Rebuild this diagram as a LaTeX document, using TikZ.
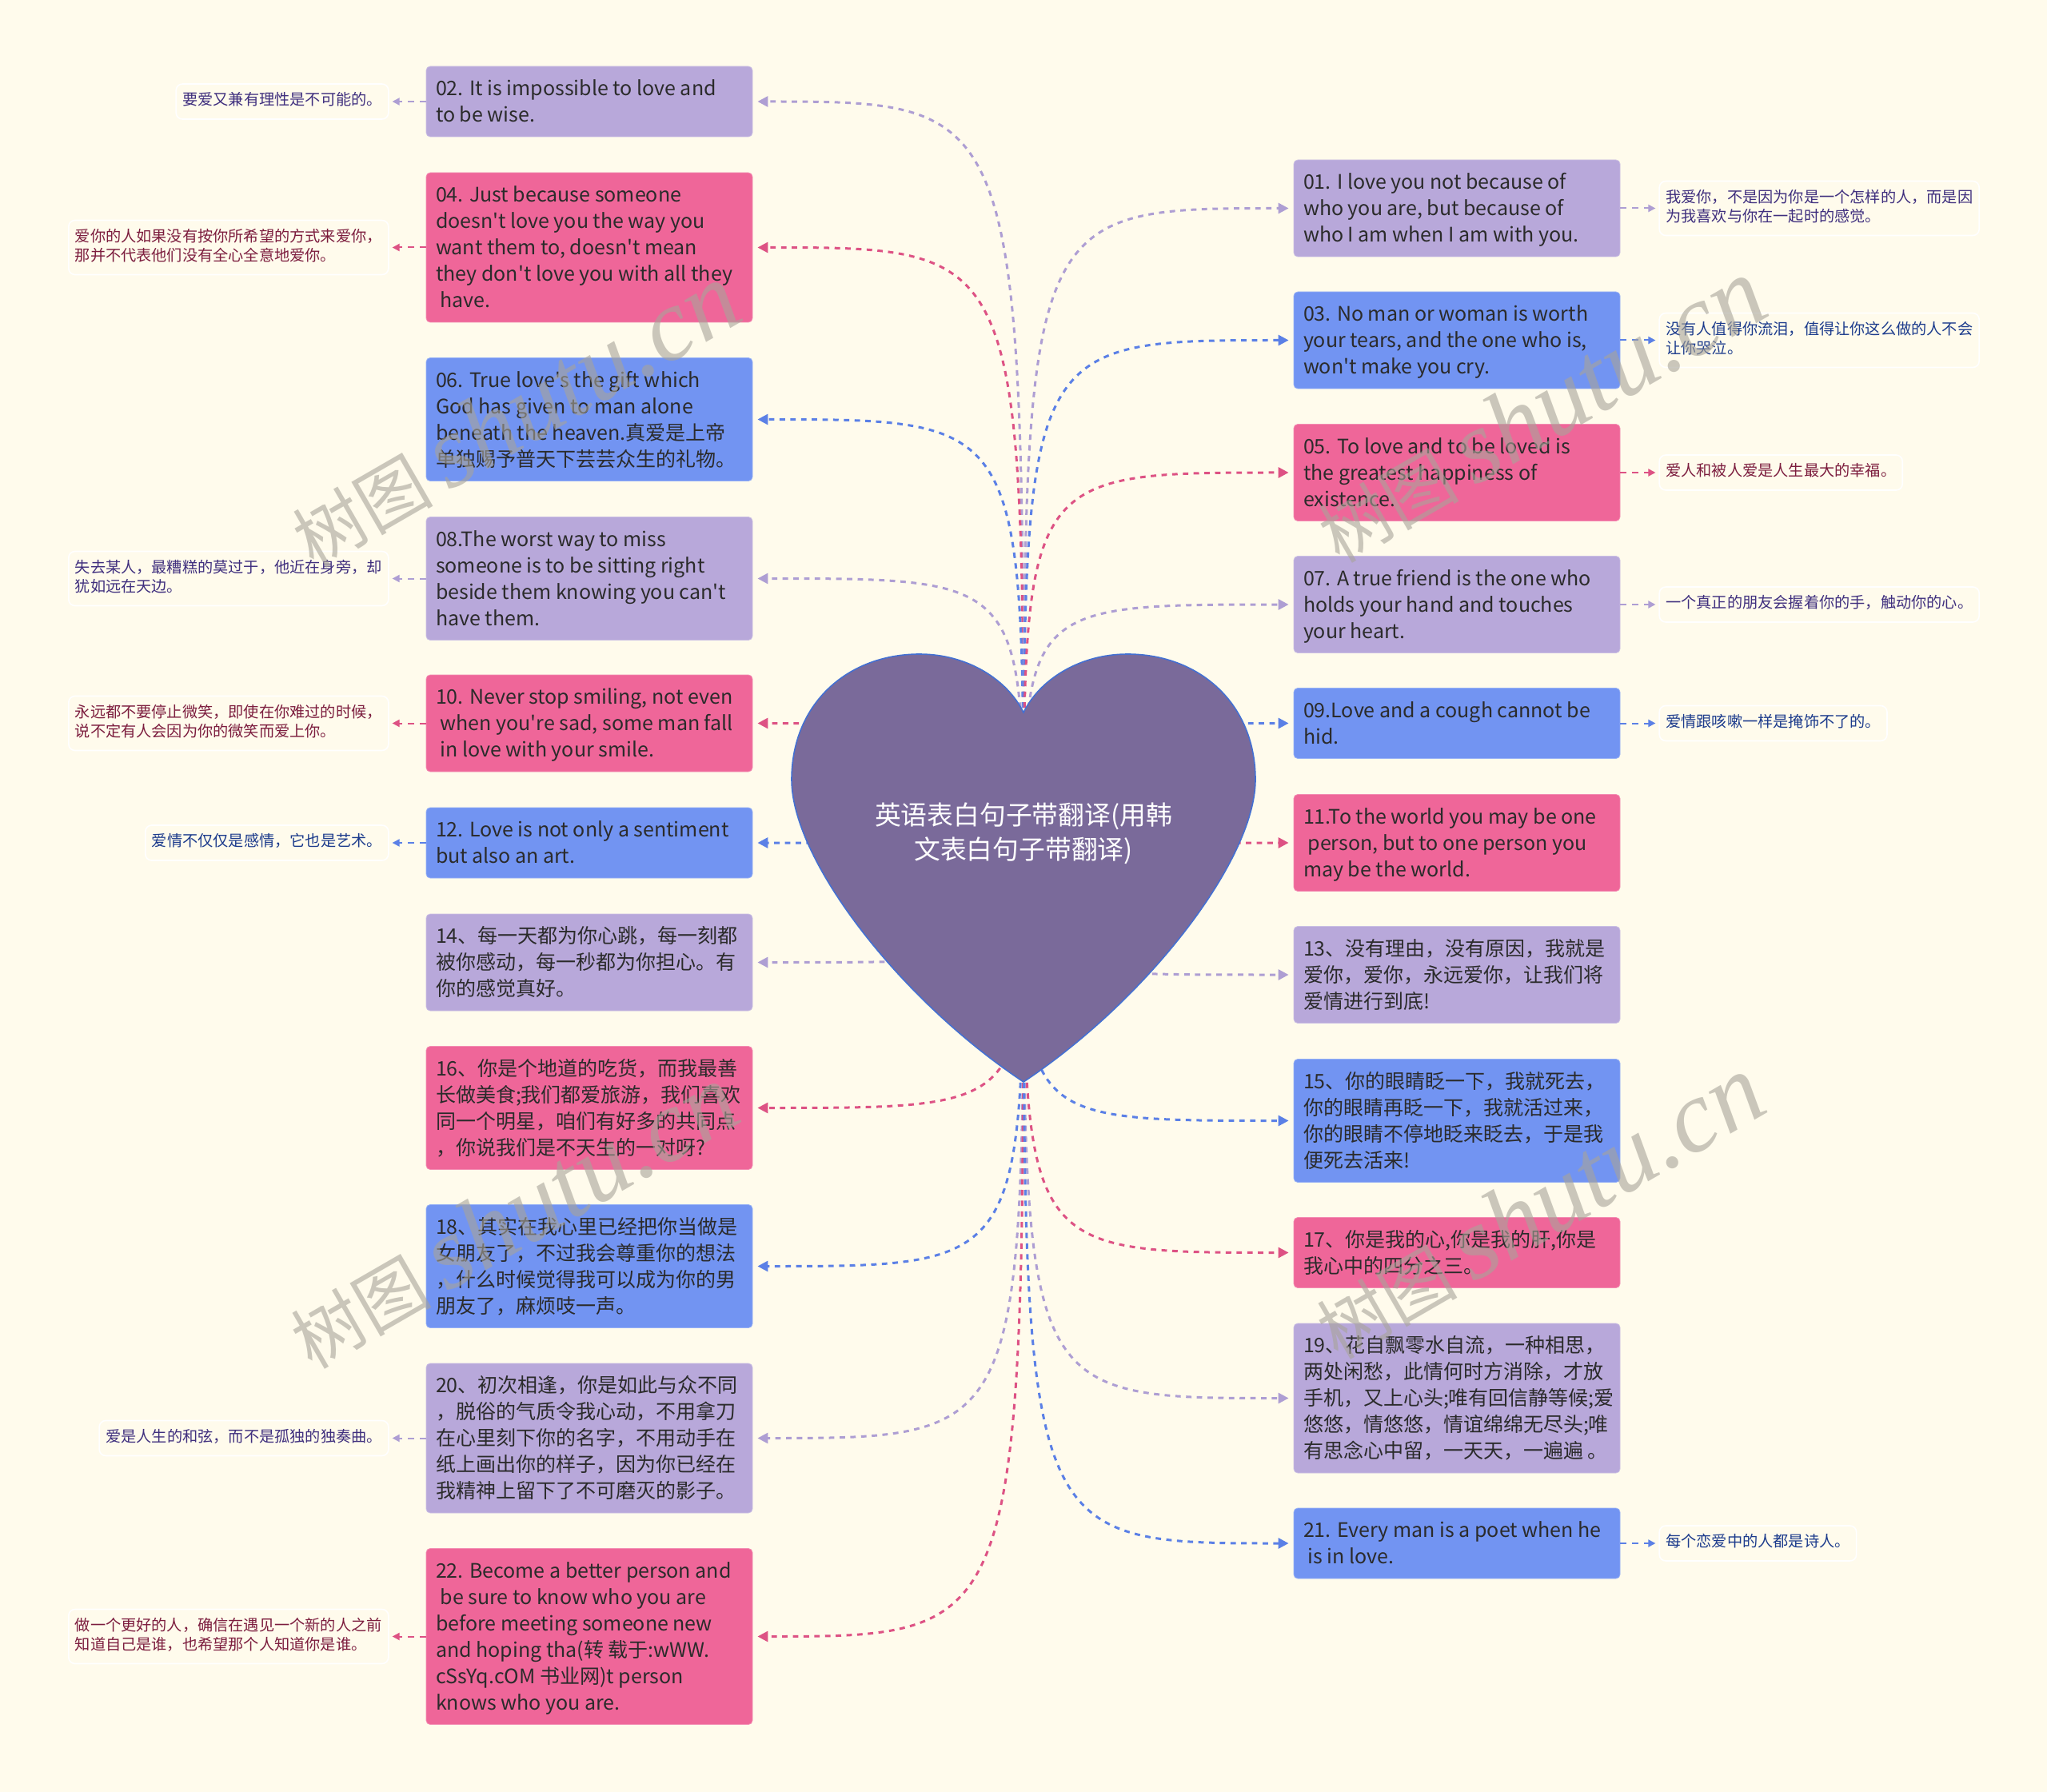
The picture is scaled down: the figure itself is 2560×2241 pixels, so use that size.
\documentclass[tikz,border=0pt]{standalone}
\usepackage{fontspec}
\setmainfont{Noto Sans CJK SC}[Ligatures=TeXOff]
\newfontfamily\wmserif{Liberation Serif}
\usetikzlibrary{arrows.meta, positioning}
\definecolor{Cream}{HTML}{FFFBEC}
\definecolor{PurBox}{HTML}{B8A8DA}
\definecolor{PinkBox}{HTML}{EF6699}
\definecolor{BlueBox}{HTML}{7294F2}
\definecolor{PurLine}{HTML}{AE9ED3}
\definecolor{PinkLine}{HTML}{DD5284}
\definecolor{BlueLine}{HTML}{5B80E6}
\definecolor{PurNote}{HTML}{3F2F7E}
\definecolor{PinkNote}{HTML}{7C1D3E}
\definecolor{BlueNote}{HTML}{1C3B8C}
\definecolor{HeartFill}{HTML}{7A6A9A}
\definecolor{HeartRim}{HTML}{4470D2}
\definecolor{Ink}{HTML}{2B2B2B}
\definecolor{Stamp}{HTML}{A8A499}

% one quote box: fixed width, lines as given
\newcommand{\qt}[1]{\makebox[192pt][l]{\raisebox{-1.3pt}[\height][\depth]{\begin{tabular}{@{}l@{}}#1\end{tabular}}}}
\newcommand{\nt}[1]{\begin{tabular}{@{}l@{}}#1\end{tabular}}

\tikzset{
  quote/.style={rectangle, rounded corners=2.5pt, fill=#1, draw=#1!75!white,
    line width=0.4pt, inner xsep=6pt, inner ysep=5.5pt, text=Ink,
    font=\fontsize{12.5pt}{16.5pt}\selectfont},
  note/.style={rectangle, rounded corners=4pt, draw=white, line width=0.8pt,
    inner xsep=4pt, inner ysep=5pt, text=#1,
    font=\fontsize{9.6pt}{12pt}\selectfont},
  link/.style={draw=#1, line width=1.5pt, dash pattern=on 3.4pt off 3.3pt,
    -{Triangle[length=6.5pt,width=6.5pt]}, shorten >=3pt},
  tie/.style={draw=#1, line width=1pt, dash pattern=on 4pt off 3.5pt,
    -{Triangle[length=4.5pt,width=4.5pt]}, shorten >=2pt},
  heartpath/.style={fill=HeartFill, draw=HeartRim, line width=0.8pt},
  wm/.style={text=Stamp, opacity=0.6, rotate=30,
    font=\fontsize{44pt}{44pt}\selectfont}
}

\begin{document}
\begin{tikzpicture}[x=0.5pt, y=-0.5pt]
  \fill[Cream] (0,0) rectangle (2560,2241);

  % left column
  \node[quote=PurBox] (b02) at (737,127) {\qt{02. It is impossible to love and\\to be wise.}};
  \node[quote=PinkBox] (b04) at (737,309.5) {\qt{04. Just because someone\\doesn't love you the way you\\want them to, doesn't mean\\they don't love you with all they\\\ have.}};
  \node[quote=BlueBox] (b06) at (737,524.5) {\qt{06. True love's the gift which\\God has given to man alone\\beneath the heaven.真爱是上帝\\单独赐予普天下芸芸众生的礼物。}};
  \node[quote=PurBox] (b08) at (737,723.5) {\qt{08.The worst way to miss\\someone is to be sitting right\\beside them knowing you can't\\have them.}};
  \node[quote=PinkBox] (b10) at (737,904.5) {\qt{10. Never stop smiling, not even\\\ when you're sad, some man fall\\\ in love with your smile.}};
  \node[quote=BlueBox] (b12) at (737,1054) {\qt{12. Love is not only a sentiment\\but also an art.}};
  \node[quote=PurBox] (b14) at (737,1203.5) {\qt{14、每一天都为你心跳，每一刻都\\被你感动，每一秒都为你担心。有\\你的感觉真好。}};
  \node[quote=PinkBox] (b16) at (737,1385.5) {\qt{16、你是个地道的吃货，而我最善\\长做美食;我们都爱旅游，我们喜欢\\同一个明星，咱们有好多的共同点\\，你说我们是不天生的一对呀?}};
  \node[quote=BlueBox] (b18) at (737,1583.5) {\qt{18、其实在我心里已经把你当做是\\女朋友了，不过我会尊重你的想法\\，什么时候觉得我可以成为你的男\\朋友了，麻烦吱一声。}};
  \node[quote=PurBox] (b20) at (737,1798.5) {\qt{20、初次相逢，你是如此与众不同\\，脱俗的气质令我心动，不用拿刀\\在心里刻下你的名字，不用动手在\\纸上画出你的样子，因为你已经在\\我精神上留下了不可磨灭的影子。}};
  \node[quote=PinkBox] (b22) at (737,2046.5) {\qt{22. Become a better person and\\\ be sure to know who you are\\before meeting someone new\\and hoping tha(转 载于:wWW.\\cSsYq.cOM 书业网)t person\\knows who you are.}};

  % right column
  \node[quote=PurBox] (b01) at (1822,260.5) {\qt{01. I love you not because of\\who you are, but because of\\who I am when I am with you.}};
  \node[quote=BlueBox] (b03) at (1822,425.5) {\qt{03. No man or woman is worth\\your tears, and the one who is,\\won't make you cry.}};
  \node[quote=PinkBox] (b05) at (1822,591) {\qt{05. To love and to be loved is\\the greatest happiness of\\existence.}};
  \node[quote=PurBox] (b07) at (1822,756) {\qt{07. A true friend is the one who\\holds your hand and touches\\your heart.}};
  \node[quote=BlueBox] (b09) at (1822,904.5) {\qt{09.Love and a cough cannot be\\hid.}};
  \node[quote=PinkBox] (b11) at (1822,1054) {\qt{11.To the world you may be one\\\ person, but to one person you\\may be the world.}};
  \node[quote=PurBox] (b13) at (1822,1219) {\qt{13、没有理由，没有原因，我就是\\爱你，爱你，永远爱你，让我们将\\爱情进行到底!}};
  \node[quote=BlueBox] (b15) at (1822,1401.5) {\qt{15、你的眼睛眨一下，我就死去，\\你的眼睛再眨一下，我就活过来，\\你的眼睛不停地眨来眨去，于是我\\便死去活来!}};
  \node[quote=PinkBox] (b17) at (1822,1566.5) {\qt{17、你是我的心,你是我的肝,你是\\我心中的四分之三。}};
  \node[quote=PurBox] (b19) at (1822,1748.5) {\qt{19、花自飘零水自流，一种相思，\\两处闲愁，此情何时方消除，才放\\手机，又上心头;唯有回信静等候;爱\\悠悠，情悠悠，情谊绵绵无尽头;唯\\有思念心中留，一天天，一遍遍 。}};
  \node[quote=BlueBox] (b21) at (1822,1930) {\qt{21. Every man is a poet when he\\\ is in love.}};

  % translations
  \node[note=PurNote, left=23pt of b02] (n02) {\nt{要爱又兼有理性是不可能的。}};
  \node[note=PinkNote, left=23pt of b04] (n04) {\nt{爱你的人如果没有按你所希望的方式来爱你，\\那并不代表他们没有全心全意地爱你。}};
  \node[note=PurNote, left=23pt of b08] (n08) {\nt{失去某人，最糟糕的莫过于，他近在身旁，却\\犹如远在天边。}};
  \node[note=PinkNote, left=23pt of b10] (n10) {\nt{永远都不要停止微笑，即使在你难过的时候，\\说不定有人会因为你的微笑而爱上你。}};
  \node[note=BlueNote, left=23pt of b12] (n12) {\nt{爱情不仅仅是感情，它也是艺术。}};
  \node[note=PurNote, left=23pt of b20] (n20) {\nt{爱是人生的和弦，而不是孤独的独奏曲。}};
  \node[note=PinkNote, left=23pt of b22] (n22) {\nt{做一个更好的人，确信在遇见一个新的人之前\\知道自己是谁，也希望那个人知道你是谁。}};
  \node[note=PurNote, right=24pt of b01] (n01) {\nt{我爱你，不是因为你是一个怎样的人，而是因\\为我喜欢与你在一起时的感觉。}};
  \node[note=BlueNote, right=24pt of b03] (n03) {\nt{没有人值得你流泪，值得让你这么做的人不会\\让你哭泣。}};
  \node[note=PinkNote, right=24pt of b05] (n05) {\nt{爱人和被人爱是人生最大的幸福。}};
  \node[note=PurNote, right=24pt of b07] (n07) {\nt{一个真正的朋友会握着你的手，触动你的心。}};
  \node[note=BlueNote, right=24pt of b09] (n09) {\nt{爱情跟咳嗽一样是掩饰不了的。}};
  \node[note=BlueNote, right=24pt of b21] (n21) {\nt{每个恋爱中的人都是诗人。}};

  \foreach \n/\c in {02/PurLine, 04/PinkLine, 08/PurLine, 10/PinkLine, 12/BlueLine, 20/PurLine, 22/PinkLine}
    \draw[tie=\c] (b\n.west) -- (n\n.east);
  \foreach \n/\c in {01/PurLine, 03/BlueLine, 05/PinkLine, 07/PurLine, 09/BlueLine, 21/BlueLine}
    \draw[tie=\c] (b\n.east) -- (n\n.west);

  % curves out of the heart
  \coordinate (hub) at (1280,1086);
  \foreach \b/\c in {b02/PurLine, b04/PinkLine, b06/BlueLine, b08/PurLine, b10/PinkLine, b12/BlueLine,
                     b14/PurLine, b16/PinkLine, b18/BlueLine, b20/PurLine, b22/PinkLine}
    \draw[link=\c] (hub) .. controls (hub |- \b.east) .. (\b.east);
  \foreach \b/\c in {b01/PurLine, b03/BlueLine, b05/PinkLine, b07/PurLine, b09/BlueLine, b11/PinkLine,
                     b13/PurLine, b15/BlueLine, b17/PinkLine, b19/PurLine, b21/BlueLine}
    \draw[link=\c] (hub) .. controls (hub |- \b.west) .. (\b.west);

  % the heart
  \path[heartpath] (1280,1353) .. controls (1125,1250) and (990,1075) .. (990,975)
    .. controls (990,880) and (1060,818) .. (1150,818)
    .. controls (1210,818) and (1260,850) .. (1280,891)
    .. controls (1300,850) and (1350,818) .. (1410,818)
    .. controls (1500,818) and (1570,880) .. (1570,975)
    .. controls (1570,1075) and (1435,1250) .. (1280,1353) -- cycle;
  \node[text=white, align=center, font=\fontsize{16.4pt}{21.5pt}\selectfont] (root) at (1280,1042)
    {英语表白句子带翻译(用韩\\文表白句子带翻译)};

  % watermark
  \foreach \wx/\wy in {643/520, 1926/514, 641/1522, 1924/1510}
    \node[wm] (wm-\wx) at (\wx,\wy) {树图 {\wmserif\itshape\fontsize{64pt}{64pt}\selectfont shutu.cn}};
\end{tikzpicture}
\end{document}
